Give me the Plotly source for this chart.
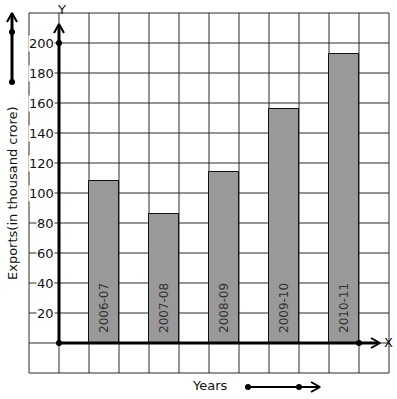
import plotly.graph_objects as go

# ---- data ----
years = ["2006-07", "2007-08", "2008-09", "2009-10", "2010-11"]
exports = [108, 86, 114, 156, 193]
bar_pos = [1.5, 3.5, 5.5, 7.5, 9.5]
y_ticks = [20, 40, 60, 80, 100, 120, 140, 160, 180, 200]
grid_x = list(range(-1, 12))
grid_y = list(range(-20, 221, 20))

W, H = 397, 399
X0PX, Y0PX, SX, SY = 59, 343, 30.0, 1.5


def u(px):
    return (px - X0PX) / SX


def v(py):
    return (Y0PX - py) / SY


FONT = "DejaVu Sans"
GRID = "#2a2a2a"

fig = go.Figure()

# bars
fig.add_trace(go.Bar(
    x=bar_pos, y=exports, width=1,
    marker=dict(color="#999999", line=dict(color="#111111", width=1)),
    hoverinfo="skip", showlegend=False))

# axis lines
fig.add_trace(go.Scatter(x=[0, 0], y=[0, v(26)], mode="lines",
                         line=dict(color="black", width=3), showlegend=False, hoverinfo="skip"))
fig.add_trace(go.Scatter(x=[0, u(378)], y=[0, 0], mode="lines",
                         line=dict(color="black", width=3), showlegend=False, hoverinfo="skip"))

# arrowheads (chevrons)
def chevron_up(px, apex_py, dx=5, dy=9):
    return dict(x=[u(px - dx), u(px), u(px + dx)], y=[v(apex_py + dy), v(apex_py), v(apex_py + dy)])


def chevron_right(apex_px, py, dx=9, dy=5):
    return dict(x=[u(apex_px - dx), u(apex_px), u(apex_px - dx)], y=[v(py - dy), v(py), v(py + dy)])


for c in [chevron_up(59, 24), chevron_up(12, 13), chevron_right(380, 343), chevron_right(320, 387)]:
    fig.add_trace(go.Scatter(x=c["x"], y=c["y"], mode="lines",
                             line=dict(color="black", width=2), showlegend=False, hoverinfo="skip"))

# decorative arrows
fig.add_trace(go.Scatter(x=[u(12), u(12)], y=[v(82), v(14)], mode="lines",
                         line=dict(color="black", width=3), showlegend=False, hoverinfo="skip"))
fig.add_trace(go.Scatter(x=[u(248), u(318)], y=[v(387), v(387)], mode="lines",
                         line=dict(color="black", width=2), showlegend=False, hoverinfo="skip"))

# dots
fig.add_trace(go.Scatter(
    x=[0, 0, 10, u(12), u(12), u(248), u(299)],
    y=[0, 200, 0, v(32), v(82), v(387), v(387)],
    mode="markers", marker=dict(color="black", size=6), showlegend=False, hoverinfo="skip"))

# grid as shapes below
shapes = []
for gx in grid_x:
    shapes.append(dict(type="line", xref="x", yref="y", x0=gx, x1=gx, y0=grid_y[0], y1=grid_y[-1],
                       line=dict(color=GRID, width=1), layer="below"))
for gy in grid_y:
    shapes.append(dict(type="line", xref="x", yref="y", x0=grid_x[0], x1=grid_x[-1], y0=gy, y1=gy,
                       line=dict(color=GRID, width=1), layer="below"))

ann = []
for t in y_ticks:
    ann.append(dict(x=u(55), y=t, xref="x", yref="y", text=str(t), showarrow=False,
                    xanchor="right", yanchor="middle", bgcolor="white", borderpad=0,
                    font=dict(family=FONT, size=13, color="#111111")))
for bx, lab in zip(bar_pos, years):
    ann.append(dict(x=bx, y=v(308), xref="x", yref="y", text=lab, showarrow=False,
                    textangle=-90, xanchor="center", yanchor="middle",
                    font=dict(family=FONT, size=12, color="#333333")))
ann.append(dict(x=u(61), y=v(9), xref="x", yref="y", text="Y", showarrow=False,
                font=dict(family=FONT, size=13, color="#111111")))
ann.append(dict(x=u(388), y=v(342), xref="x", yref="y", text="X", showarrow=False,
                font=dict(family=FONT, size=13, color="#111111")))
ann.append(dict(x=u(210), y=v(385), xref="x", yref="y", text="Years", showarrow=False,
                font=dict(family=FONT, size=13, color="#111111")))
ann.append(dict(x=u(12), y=v(193), xref="x", yref="y", text="Exports(in thousand crore)",
                showarrow=False, textangle=-90,
                font=dict(family=FONT, size=13, color="#111111")))

fig.update_layout(
    width=W, height=H,
    margin=dict(l=0, r=0, t=0, b=0),
    paper_bgcolor="white", plot_bgcolor="white",
    xaxis=dict(range=[u(0), u(W)], visible=False, fixedrange=True),
    yaxis=dict(range=[v(H), v(0)], visible=False, fixedrange=True),
    shapes=shapes, annotations=ann, showlegend=False,
    bargap=0,
)

fig.write_html("out.html", config={"displayModeBar": False},
               post_script="document.body.style.margin='0';document.body.style.overflow='hidden';")
